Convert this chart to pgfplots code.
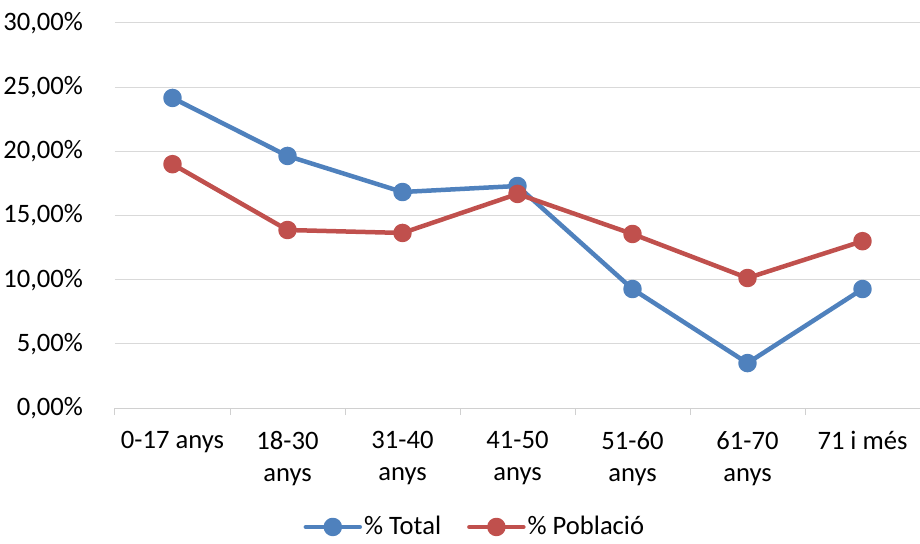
\documentclass[border=0pt]{standalone}
\usepackage{fontspec}
\setmainfont{Carlito}
\usepackage{pgfplots}
\pgfplotsset{compat=1.18}
\definecolor{cblue}{HTML}{4F81BD}
\definecolor{cred}{HTML}{C0504D}
\definecolor{cgrid}{HTML}{D9D9D9}
\definecolor{caxis}{HTML}{D0D0D0}
\begin{document}
\fontsize{26.6}{32}\selectfont
\begin{tikzpicture}
\begin{axis}[
  name=ax,
  scale only axis, width=805pt, height=385pt,
  xmin=-0.5, xmax=6.5, ymin=0, ymax=30,
  xtick={0,...,6},
  xticklabels={{0-17 anys},{18-30\\anys},{31-40\\anys},{41-50\\anys},{51-60\\anys},{61-70\\anys},{71 i més}},
  minor xtick={-0.5,0.5,...,6.5},
  ytick={0,5,...,30},
  yticklabels={{0,00\%},{5,00\%},{10,00\%},{15,00\%},{20,00\%},{25,00\%},{30,00\%}},
  major tick length=0pt, minor tick length=7pt, tick align=outside,
  axis x line*=bottom, axis y line*=left,
  y axis line style={draw=none},
  x axis line style={caxis, line width=1pt},
  minor tick style={caxis, line width=1pt},
  ymajorgrids, major grid style={cgrid, line width=1pt},
  xticklabel style={align=center, anchor=north, yshift=-14pt},
  yticklabel style={anchor=east, xshift=-23pt},
  legend style={at={(0.447,-0.309)}, anchor=center, draw=none, fill=none,
    legend columns=-1, /tikz/every even column/.append style={column sep=24pt},
    nodes={inner sep=2pt}},
  legend image code/.code={\draw[mark repeat=2,mark phase=2,line cap=round] plot coordinates {(0pt,0pt)(27pt,0pt)(54pt,0pt)};},
]
\addplot[cblue, line width=4.5pt, line join=round, mark=*, mark size=7pt] coordinates {
  (0,24.16) (1,19.64) (2,16.83) (3,17.30) (4,9.27) (5,3.50) (6,9.27)};
\addlegendentry{\% Total}
\addplot[cred, line width=4.5pt, line join=round, mark=*, mark size=7pt] coordinates {
  (0,19.00) (1,13.87) (2,13.64) (3,16.68) (4,13.56) (5,10.13) (6,13.00)};
\addlegendentry{\% Població}
\end{axis}
\pgfresetboundingbox
\path[use as bounding box] ([shift={(-115pt,-135pt)}]ax.south west) rectangle ([shift={(0pt,23pt)}]ax.north east);
\end{tikzpicture}
\end{document}
